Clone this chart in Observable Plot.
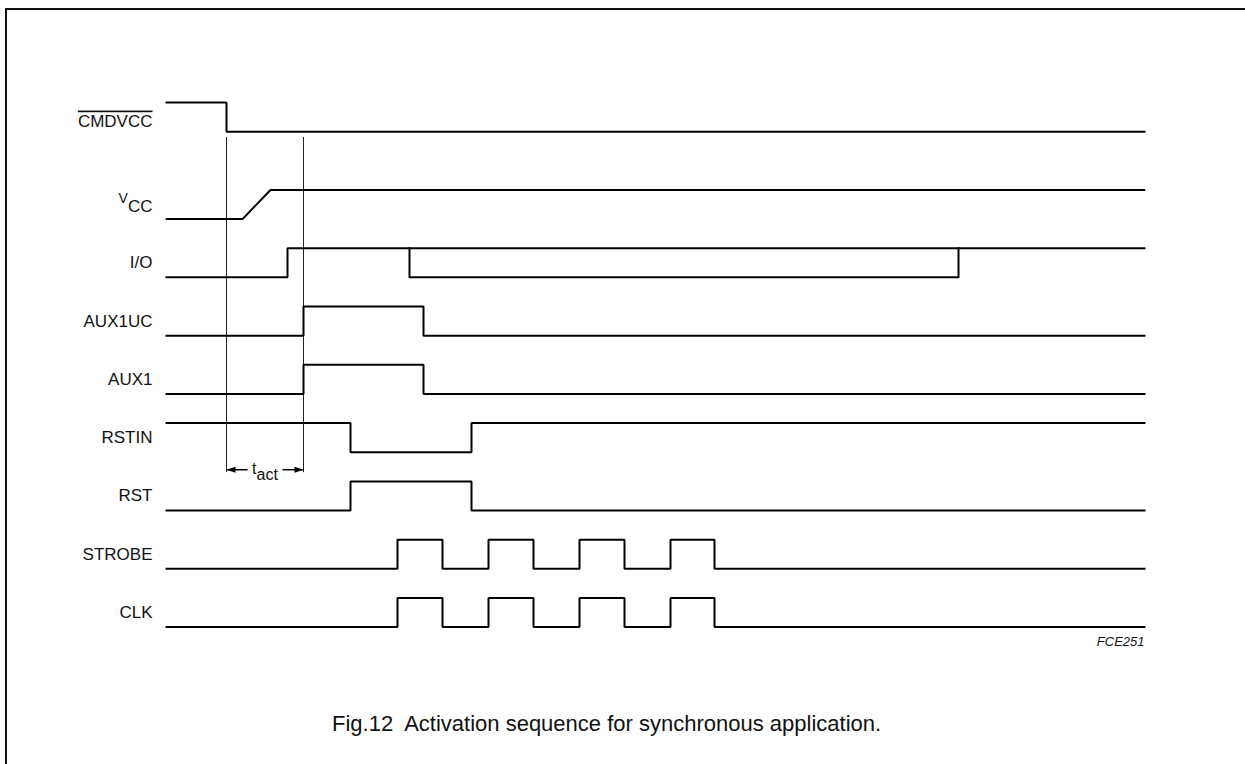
<!DOCTYPE html>
<html><head><meta charset="utf-8">
<script src="https://cdn.jsdelivr.net/npm/d3@7"></script>
<script src="https://cdn.jsdelivr.net/npm/@observablehq/plot@0.6"></script>
<style>
html,body{margin:0;padding:0;background:#fff;width:1245px;height:764px;overflow:hidden;}
#frame{position:absolute;left:5px;top:8px;width:2000px;height:2000px;border-left:2px solid #111;border-top:2px solid #111;}
#chart{position:absolute;left:0;top:0;}
#caption{position:absolute;left:332px;top:713px;font-size:22px;line-height:22px;font-family:"Liberation Sans",Arial,sans-serif;color:#111;white-space:pre;}
</style></head><body>
<div id="frame"></div>
<div id="chart"></div>
<div id="caption">Fig.12  Activation sequence for synchronous application.</div>
<script>
// ---- data (time in arbitrary units, level 0 = low, 1 = high) ----
const signalNames = ["CMDVCC", "VCC", "I/O", "AUX1UC", "AUX1", "RSTIN", "RST", "STROBE", "CLK"];
const signalRows  = [0, 1.5, 2.5, 3.5, 4.5, 5.5, 6.5, 7.5, 8.5];
const timeStart = 0;
const timeEnd = 97.8;

const cmdvccEdges = [[0, 1], [6.0, 0], [97.8, 0]];
const vccPoints   = [[0, 0], [7.6, 0], [10.4, 1], [97.8, 1]];     // ramp (linear)
const ioEdges     = [[0, 0], [12.1, 1], [97.8, 1]];
const ioDataEdges = [[24.3, 1], [24.3, 0], [79.2, 1]];
const aux1ucEdges = [[0, 0], [13.7, 1], [25.7, 0], [97.8, 0]];
const aux1Edges   = [[0, 0], [13.7, 1], [25.7, 0], [97.8, 0]];
const rstinEdges  = [[0, 1], [18.4, 0], [30.5, 1], [97.8, 1]];
const rstEdges    = [[0, 0], [18.4, 1], [30.5, 0], [97.8, 0]];
const strobeEdges = [[0, 0], [23.1, 1], [27.6, 0], [32.2, 1], [36.7, 0], [41.3, 1], [45.8, 0], [50.4, 1], [54.8, 0], [97.8, 0]];
const clkEdges    = [[0, 0], [23.1, 1], [27.6, 0], [32.2, 1], [36.7, 0], [41.3, 1], [45.8, 0], [50.4, 1], [54.8, 0], [97.8, 0]];

const guideTimes = [6.0, 13.7];
const guideRowTop = 0.10;
const guideRowBottom = 5.85;
const tactRow = 5.8;
const tactShafts = [[6.0, 8.1], [11.6, 13.7]];
const tactLabel = "tact";
const figureCode = "FCE251";

// ---- build tables ----
const rowOf = name => signalRows[signalNames.indexOf(name)];
const amp = 0.5;
const stepSeries = [
  ["CMDVCC", "CMDVCC", cmdvccEdges],
  ["I/O", "I/O", ioEdges],
  ["I/O data", "I/O", ioDataEdges],
  ["AUX1UC", "AUX1UC", aux1ucEdges],
  ["AUX1", "AUX1", aux1Edges],
  ["RSTIN", "RSTIN", rstinEdges],
  ["RST", "RST", rstEdges],
  ["STROBE", "STROBE", strobeEdges],
  ["CLK", "CLK", clkEdges]
];
const stepTable = stepSeries.flatMap(([key, sig, edges]) =>
  edges.map(([t, lvl]) => ({key, t, y: rowOf(sig) - lvl * amp})));
const vccTable = vccPoints.map(([t, lvl]) => ({t, y: rowOf("VCC") - lvl * amp}));
const labelTable = signalNames.map((name, i) => ({name, row: signalRows[i]}));

const arrowLeft = {draw(ctx) { ctx.moveTo(0, 0); ctx.lineTo(9, -3); ctx.lineTo(9, 3); ctx.closePath(); }};
const arrowRight = {draw(ctx) { ctx.moveTo(0, 0); ctx.lineTo(-9, -3); ctx.lineTo(-9, 3); ctx.closePath(); }};

const font = "Liberation Sans, Arial, sans-serif";
const mid = d => d.row - amp / 2;

const chart = Plot.plot({
  width: 1245,
  height: 764,
  marginLeft: 166,
  marginRight: 101,
  marginTop: 102,
  marginBottom: 137.4,
  style: {background: "transparent", overflow: "visible", fontFamily: font},
  x: {domain: [timeStart, timeEnd], axis: null},
  y: {domain: [-0.5, 8.5], reverse: true, axis: null},
  marks: [
    Plot.ruleX(guideTimes, {x: d => d, y1: guideRowTop, y2: guideRowBottom, stroke: "#222", strokeWidth: 1}),
    Plot.line(stepTable, {x: "t", y: "y", z: "key", curve: "step-after", stroke: "#000", strokeWidth: 2, strokeLinejoin: "miter", strokeLinecap: "square"}),
    Plot.line(vccTable, {x: "t", y: "y", curve: "linear", stroke: "#000", strokeWidth: 2, strokeLinejoin: "miter"}),
    Plot.text(labelTable.filter(d => d.name !== "CMDVCC"), {x: () => timeStart, y: mid, text: "name", textAnchor: "end", dx: -14, fontSize: 17, fill: "#111"}),
    Plot.text(labelTable.filter(d => d.name === "CMDVCC"), {x: () => timeStart, y: mid, text: "name", textAnchor: "end", dx: -14, dy: 4, fontSize: 17, fill: "#111"}),
    Plot.link(tactShafts, {x1: d => d[0], x2: d => d[1], y1: () => tactRow, y2: () => tactRow, stroke: "#000", strokeWidth: 1.5}),
    Plot.dot([guideTimes[0]], {x: d => d, y: () => tactRow, symbol: arrowLeft, fill: "#000", stroke: "none", r: 4}),
    Plot.dot([guideTimes[1]], {x: d => d, y: () => tactRow, symbol: arrowRight, fill: "#000", stroke: "none", r: 4}),
    Plot.text([tactLabel], {x: () => (guideTimes[0] + guideTimes[1]) / 2, y: () => tactRow, text: d => d, textAnchor: "middle", dy: -1, fontSize: 16, fill: "#111"}),
    Plot.text([figureCode], {x: () => timeEnd, y: () => signalRows[8], text: d => d, textAnchor: "end", dy: 15, fontSize: 13, fontStyle: "italic", fill: "#111"})
  ]
});
document.getElementById("chart").appendChild(chart);

// rich text: overline, subscripts
const svg = d3.select(chart);
svg.selectAll("text").each(function() {
  const t = d3.select(this);
  const s = this.textContent;
  if (s === "CMDVCC") {
    t.style("text-decoration", "overline");
  } else if (s === "VCC") {
    t.text(null);
    t.append("tspan").style("font-size", "14px").attr("dy", -7).text("V");
    t.append("tspan").attr("dy", 9).text("CC");
  } else if (s === tactLabel) {
    t.text(null);
    t.append("tspan").text("t");
    t.append("tspan").attr("dy", 6.5).text("act");
  }
});
</script>
</body></html>
